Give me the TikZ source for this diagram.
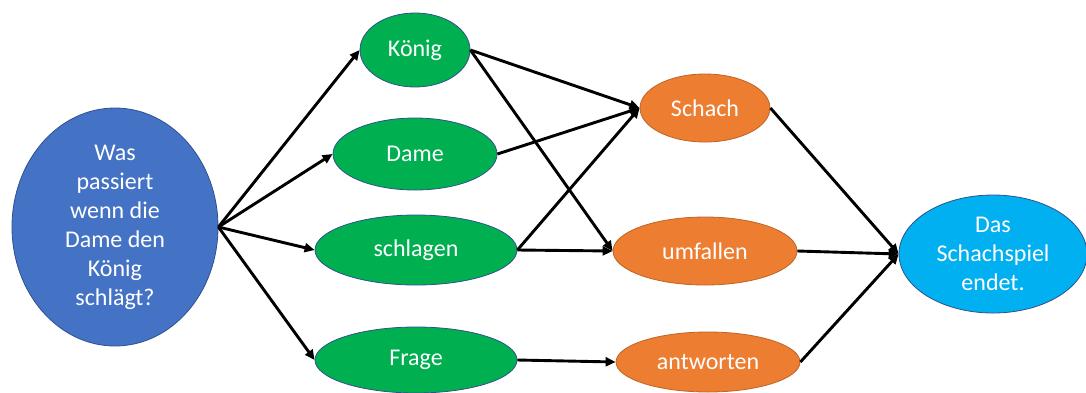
\documentclass[tikz,border=0pt]{standalone}
\usepackage{fontspec}
\setmainfont{Carlito}
\usetikzlibrary{shapes.geometric,arrows.meta}
\definecolor{fragblau}{HTML}{4472C4}
\definecolor{wortgruen}{HTML}{00B050}
\definecolor{folgeorange}{HTML}{ED7D31}
\definecolor{endeblau}{HTML}{00B0F0}
\definecolor{randblau}{HTML}{2F528F}
\tikzset{
  knoten/.style={ellipse, draw=randblau, line width=0.8pt, inner sep=0pt, text=white, align=center,
    font=\fontsize{24}{29}\selectfont},
  wort/.style={knoten, fill=wortgruen},
  folge/.style={knoten, fill=folgeorange, draw=folgeorange!80!black},
  pfeil/.style={line width=2.9pt, -{Triangle[length=10pt,width=9pt]}}
}
\begin{document}
\begin{tikzpicture}[x=1pt,y=-1pt]
	\useasboundingbox (0,0) rectangle (1086,392);
	% Frage links
	\node[knoten, fill=fragblau, minimum width=206pt, minimum height=238pt, inner ysep=-22pt] (frage) at (115,227)
		{Was\\passiert\\wenn die\\Dame den\\König\\schlägt?};
	% Woerter
	\node[wort, minimum width=110pt, minimum height=74pt] (koenig) at (415,50) {König};
	\node[wort, minimum width=164pt, minimum height=72pt] (dame) at (415,154) {Dame};
	\node[wort, minimum width=202pt, minimum height=70pt] (schlagen) at (416,250) {schlagen};
	\node[wort, minimum width=202pt, minimum height=66pt] (fragewort) at (416,360) {Frage};
	% Folgen
	\node[folge, minimum width=130pt, minimum height=68pt] (schach) at (705,108) {Schach};
	\node[folge, minimum width=184pt, minimum height=68pt] (umfallen) at (705,251) {umfallen};
	\node[folge, minimum width=184pt, minimum height=60pt] (antworten) at (708,362) {antworten};
	% Ende
	\node[knoten, fill=endeblau, minimum width=188pt, minimum height=118pt] (ende) at (993,254)
		{Das\\Schachspiel\\endet.};
	% Pfeile
	\foreach \a/\b in {frage/koenig,frage/dame,frage/schlagen,frage/fragewort,
		koenig/schach,koenig/umfallen,dame/schach,schlagen/schach,schlagen/umfallen,
		fragewort/antworten,schach/ende,umfallen/ende,antworten/ende}
	\draw[pfeil] (\a.east)--(\b.west);
\end{tikzpicture}
\end{document}
